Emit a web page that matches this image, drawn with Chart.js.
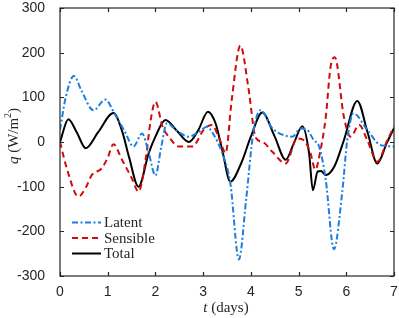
<!DOCTYPE html>
<html lang="en">
<head>
  <meta charset="UTF-8">
  <title>Heat flux</title>
  <script src="https://cdn.jsdelivr.net/npm/chart.js"></script>
  <style>
    html, body { margin: 0; padding: 0; background: #fff; }
  </style>
</head>
<body>
<canvas id="fluxChart" width="399" height="318"></canvas>
<script>
  // values (t in days, q in W/m2)
  const latentT = [0, 0.12, 0.29, 0.45, 0.70, 0.95, 1.15, 1.35, 1.54, 1.72, 1.85, 2.0, 2.12, 2.24, 2.45, 2.7, 2.9, 3.08, 3.2, 3.4, 3.57, 3.75, 3.9, 4.05, 4.2, 4.45, 4.7, 4.87, 5.04, 5.18, 5.32, 5.43, 5.57, 5.74, 5.92, 6.02, 6.15, 6.44, 6.72, 7.0];
  const latentQ = [27, 100, 148, 115, 71, 95, 62, 25, -10, 19, -20, -75, -12, 42, 25, 12, 22, 34, 20, -25, -92, -263, -130, 20, 71, 31, 15, 12, 30, 27, 4, -10, -85, -240, -107, 4, 64, 27, -7, -10];

  const sensibleT = [0, 0.15, 0.385, 0.55, 0.665, 0.875, 1.0, 1.12, 1.3, 1.5, 1.645, 1.8, 1.9, 2.0, 2.15, 2.28, 2.49, 2.77, 3.03, 3.18, 3.35, 3.47, 3.6, 3.78, 3.95, 4.10, 4.25, 4.45, 4.73, 4.97, 5.11, 5.25, 5.35, 5.46, 5.57, 5.67, 5.76, 5.95, 6.09, 6.27, 6.44, 6.65, 6.86, 7.0];
  const sensibleQ = [0, -62, -122, -100, -74, -59, -35, -5, -40, -80, -111, -35, 49, 90, 34, 12, -10, -10, 30, 38, 5, -25, 95, 216, 120, 10, 0, -22, -48, 8, 4, -25, -62, -18, 56, 168, 190, 56, 12, 38, 4, -44, 4, 34];

  const totalT = [0, 0.175, 0.35, 0.54, 0.8, 1.12, 1.3, 1.45, 1.645, 1.86, 2.0, 2.21, 2.45, 2.70, 2.9, 3.10, 3.26, 3.40, 3.57, 3.8, 4.0, 4.24, 4.5, 4.73, 4.9, 5.08, 5.22, 5.30, 5.40, 5.47, 5.57, 5.75, 5.95, 6.23, 6.45, 6.65, 6.85, 7.0];
  const totalQ = [0, 51, 22, -14, 22, 65, 25, -35, -100, -25, 12, 49, 25, 0, 27, 68, 42, -18, -89, -47, 12, 66, 12, -40, -3, 35, -25, -108, -66, -65, -74, -55, 4, 92, 20, -48, -2, 31];

  const xTicks = [0, 1, 2, 3, 4, 5, 6, 7];
  const yTicks = [-300, -200, -100, 0, 100, 200, 300];

  const axisColor = "#262626";

  function toPoints(ts, qs) {
    return ts.map((t, i) => ({ x: t, y: qs[i] }));
  }

  // box, inward ticks, axis titles and legend
  const framePlugin = {
    id: "frame",
    afterDraw(chart) {
      const ctx = chart.ctx;
      const a = chart.chartArea;
      const xs = chart.scales.x;
      const ys = chart.scales.y;
      ctx.save();
      ctx.strokeStyle = axisColor;
      ctx.lineWidth = 1.2;
      ctx.strokeRect(a.left, a.top, a.right - a.left, a.bottom - a.top);
      ctx.beginPath();
      xTicks.forEach(v => {
        const px = Math.round(xs.getPixelForValue(v)) + 0.5;
        ctx.moveTo(px, a.bottom); ctx.lineTo(px, a.bottom - 4);
        ctx.moveTo(px, a.top); ctx.lineTo(px, a.top + 4);
      });
      yTicks.forEach(v => {
        const py = Math.round(ys.getPixelForValue(v)) + 0.5;
        ctx.moveTo(a.left, py); ctx.lineTo(a.left + 4, py);
        ctx.moveTo(a.right, py); ctx.lineTo(a.right - 4, py);
      });
      ctx.stroke();

      // x title: t (days)
      ctx.fillStyle = axisColor;
      ctx.textBaseline = "alphabetic";
      const serif = "'Liberation Serif', 'DejaVu Serif', serif";
      ctx.font = "italic 15px " + serif;
      const tW = ctx.measureText("t").width;
      ctx.font = "15px " + serif;
      const restW = ctx.measureText(" (days)").width;
      let x0 = 226 - (tW + restW) / 2;
      ctx.font = "italic 15px " + serif;
      ctx.fillText("t", x0, 312);
      ctx.font = "15px " + serif;
      ctx.fillText(" (days)", x0 + tW, 312);

      // y title: q (W/m^2)
      ctx.save();
      ctx.translate(18, 136);
      ctx.rotate(-Math.PI / 2);
      ctx.font = "italic 15px " + serif;
      const qW = ctx.measureText("q").width;
      ctx.font = "15px " + serif;
      const p1W = ctx.measureText(" (W/m").width;
      ctx.font = "10px " + serif;
      const supW = ctx.measureText("2").width;
      ctx.font = "15px " + serif;
      const p2W = ctx.measureText(")").width;
      let y0 = -(qW + p1W + supW + p2W) / 2;
      ctx.font = "italic 15px " + serif;
      ctx.fillText("q", y0, 0);
      ctx.font = "15px " + serif;
      ctx.fillText(" (W/m", y0 + qW, 0);
      ctx.font = "10px " + serif;
      ctx.fillText("2", y0 + qW + p1W, -7);
      ctx.font = "15px " + serif;
      ctx.fillText(")", y0 + qW + p1W + supW, 0);
      ctx.restore();

      // legend
      const rows = [222.5, 238, 253.5];
      chart.data.datasets.forEach((ds, i) => {
        ctx.beginPath();
        ctx.strokeStyle = ds.borderColor;
        ctx.lineWidth = ds.borderWidth;
        ctx.setLineDash(ds.borderDash || []);
        ctx.moveTo(72, rows[i]); ctx.lineTo(101, rows[i]);
        ctx.stroke();
        ctx.setLineDash([]);
        ctx.fillStyle = axisColor;
        ctx.font = "15px " + serif;
        ctx.textBaseline = "middle";
        ctx.fillText(ds.label, 104, rows[i] + 1);
      });
      ctx.restore();
    }
  };

  const ctx = document.getElementById("fluxChart").getContext("2d");
  new Chart(ctx, {
    type: "line",
    data: {
      datasets: [{
        label: "Latent",
        data: toPoints(latentT, latentQ),
        borderColor: "#1a7fe3",
        borderWidth: 2,
        borderDash: [6, 2.5, 2, 2.5]
      }, {
        label: "Sensible",
        data: toPoints(sensibleT, sensibleQ),
        borderColor: "#d20a0a",
        borderWidth: 2,
        borderDash: [6, 4]
      }, {
        label: "Total",
        data: toPoints(totalT, totalQ),
        borderColor: "#000000",
        borderWidth: 2
      }]
    },
    options: {
      responsive: false,
      animation: false,
      devicePixelRatio: 1,
      layout: { padding: 0 },
      elements: {
        point: { radius: 0 },
        line: { cubicInterpolationMode: "monotone", fill: false }
      },
      plugins: {
        legend: { display: false },
        tooltip: { enabled: false }
      },
      scales: {
        x: {
          type: "linear",
          min: 0,
          max: 7,
          afterFit: s => { s.height = 42; s.paddingLeft = 0; s.paddingRight = 5; },
          grid: { display: false },
          border: { display: false },
          ticks: {
            stepSize: 1,
            padding: 0,
            color: axisColor,
            font: { family: "'Liberation Sans', Arial, sans-serif", size: 14 }
          }
        },
        y: {
          min: -300,
          max: 300,
          afterFit: s => { s.width = 60; s.paddingTop = 8; s.paddingBottom = 0; },
          grid: { display: false },
          border: { display: false },
          ticks: {
            stepSize: 100,
            padding: 7,
            color: axisColor,
            font: { family: "'Liberation Sans', Arial, sans-serif", size: 14 }
          }
        }
      }
    },
    plugins: [framePlugin]
  });
</script>
</body>
</html>
